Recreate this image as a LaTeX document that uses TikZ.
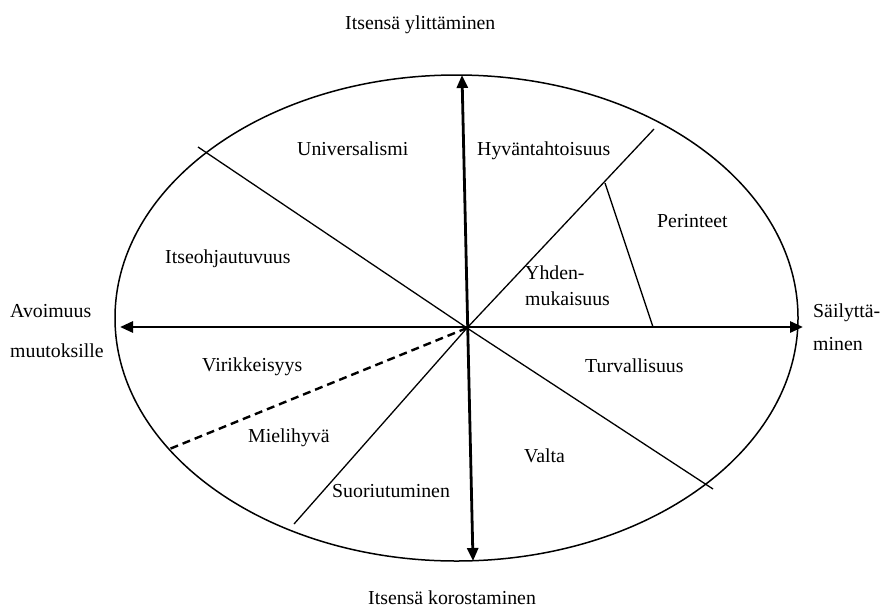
\documentclass[tikz,border=0pt]{standalone}
\usepackage{fontspec}
\setmainfont{Liberation Serif}
\usetikzlibrary{arrows.meta}
\begin{document}
\begin{tikzpicture}[x=1pt,y=-1pt,
  lbl/.style={anchor=base west,inner sep=0pt,font=\fontsize{19.8pt}{24pt}\selectfont},
  axis/.style={line width=2.8pt,{Triangle[length=13pt,width=11pt]}-{Triangle[length=13pt,width=11pt]}},
  thin/.style={line width=1.3pt},
  dashline/.style={line width=2.4pt,dash pattern=on 8pt off 5pt},
  rim/.style={line width=1.5pt}]
\useasboundingbox (0,0) rectangle (882,608);
% ellipse
\draw[rim] (456.5,318) ellipse [x radius=341.5pt, y radius=243pt];
% coordinates
\coordinate (c) at (467,328);
\coordinate (top) at (462,75);
\coordinate (bot) at (473,561);
\coordinate (left) at (120,327);
\coordinate (right) at (803,327);
\coordinate (ul) at (198,147);
\coordinate (lr) at (713,489);
\coordinate (ur) at (654,129);
\coordinate (ll) at (294,524);
\coordinate (dl) at (167,450);
\coordinate (s1) at (605,183);
\coordinate (s2) at (653,327);
% lines
\draw[thin] (c) -- (ul);
\draw[thin] (c) -- (lr);
\draw[thin] (c) -- (ur);
\draw[thin] (c) -- (ll);
\draw[thin] (s1) -- (s2);
\draw[dashline] (c) -- (dl);
\draw[axis] (top) -- (bot);
\draw[axis] (left) -- (right);
% labels
\node[lbl] (ttop) at (345,29) {Itsensä ylittäminen};
\node[lbl] (tbot) at (368,604) {Itsensä korostaminen};
\node[lbl] (univ) at (297,155) {Universalismi};
\node[lbl] (hyv) at (477,155) {Hyväntahtoisuus};
\node[lbl] (per) at (657,227) {Perinteet};
\node[lbl] (itse) at (165,263) {Itseohjautuvuus};
\node[lbl] (yhd1) at (525,279) {Yhden-};
\node[lbl] (yhd2) at (525,305) {mukaisuus};
\node[lbl] (avo1) at (10,317) {Avoimuus};
\node[lbl] (avo2) at (10,357) {muutoksille};
\node[lbl] (sai1) at (813,317) {Säilyttä-};
\node[lbl] (sai2) at (813,350) {minen};
\node[lbl] (vir) at (202,371) {Virikkeisyys};
\node[lbl] (turv) at (585,372) {Turvallisuus};
\node[lbl] (miel) at (248,442) {Mielihyvä};
\node[lbl] (valta) at (524,462) {Valta};
\node[lbl] (suor) at (332,497) {Suoriutuminen};
\end{tikzpicture}
\end{document}
